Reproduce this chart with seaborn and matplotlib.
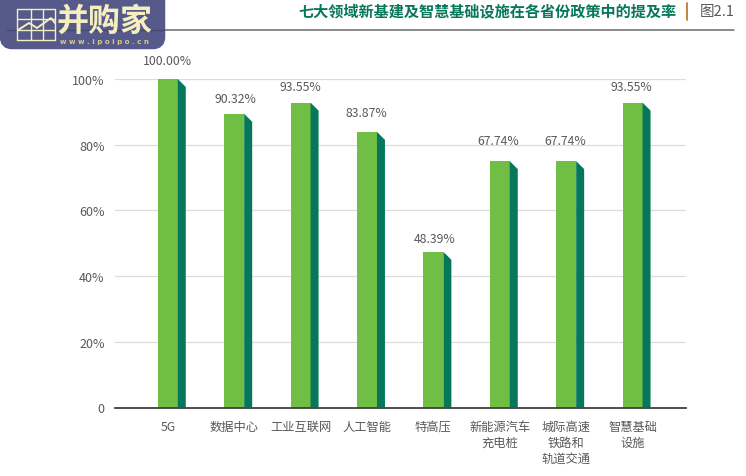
import matplotlib
matplotlib.use("Agg")
import matplotlib.pyplot as plt
from matplotlib.patches import FancyBboxPatch, Polygon
import seaborn as sns
import pandas as pd

sns.set_theme(style="white")
plt.rcParams['font.family'] = ['Noto Sans CJK SC', 'DejaVu Sans']

categories = ["5G", "数据中心", "工业互联网", "人工智能", "特高压",
              "新能源汽车\n充电桩", "城际高速\n铁路和\n轨道交通", "智慧基础\n设施"]
bar_heights = [100, 89.4, 92.8, 83.9, 47.4, 75.0, 75.0, 92.8]
labels = ["100.00%", "90.32%", "93.55%", "83.87%", "48.39%", "67.74%", "67.74%", "93.55%"]
y_ticks = [0, 20, 40, 60, 80, 100]
y_tick_labels = ["0", "20%", "40%", "60%", "80%", "100%"]
title = "七大领域新基建及智慧基础设施在各省份政策中的提及率"
fig_tag = "图2.1"
logo_name = "并购家"
logo_url = "www.ipoipo.cn"

W, H = 746, 477
GREEN, DARK, TXT = "#70BF44", "#06775A", "#595959"
fig = plt.figure(figsize=(W / 100, H / 100), dpi=100, facecolor="white")
ax = fig.add_axes([115 / W, 1 - 408.5 / H, 571 / W, 328.5 / H])

df = pd.DataFrame({"cat": categories, "val": bar_heights})
bw = 20 / 66.4
sns.barplot(data=df, x="cat", y="val", color=GREEN, saturation=1, width=bw, ax=ax,
            zorder=3, linewidth=0, edgecolor="none")
ax.set_xlim(-0.795, 7.805)
ax.set_ylim(0, 100)
ax.set_xlabel("")
ax.set_ylabel("")
ax.set_yticks(y_ticks, y_tick_labels)
ax.tick_params(axis="y", length=0, pad=7.5, labelsize=9, labelcolor=TXT)
ax.tick_params(axis="x", length=0, pad=9, labelsize=8.8, labelcolor=TXT)
for t in ax.get_xticklabels():
    t.set_linespacing(1.3)
    t.set_va("top")
ax.grid(axis="y", color="#DCDCDC", lw=0.9, zorder=0)
for s in ["top", "left", "right"]:
    ax.spines[s].set_visible(False)
ax.spines["bottom"].set_color("#404040")
ax.spines["bottom"].set_linewidth(1.3)
ax.spines["bottom"].set_zorder(5)

depth = 8 / 66.4
drop = 8 / 329 * 100
label_gap_px = [12, 9, 10, 13, 7, 14, 14, 10]
label_shift_px = [0, 1, 0, -1, 1, -2, -1, -1]
for i, h in enumerate(bar_heights):
    r = i + bw / 2
    ax.add_patch(Polygon([(r, 0), (r, h), (r + depth, h - drop), (r + depth, 0)],
                         closed=True, fc=DARK, ec="none", zorder=3))
    ax.annotate(labels[i], (i, h), xytext=(label_shift_px[i] * 0.72, label_gap_px[i] * 0.72),
                textcoords="offset points", ha="center", va="bottom", fontsize=8.8,
                color=TXT, annotation_clip=False)

# header and logo, in pixel coordinates
ov = fig.add_axes([0, 0, 1, 1], zorder=10)
ov.set_xlim(0, W)
ov.set_ylim(H, 0)
ov.axis("off")
ov.patch.set_alpha(0)
ov.plot([0, 734], [30.5, 30.5], color="#6B6B6B", lw=1.1, zorder=1)
ov.text(487, 12.5, title, ha="center", va="center", fontsize=10.9, fontweight="bold", color=DARK)
ov.plot([687, 687], [4, 21], color="#C8772E", lw=1.3)
ov.text(700, 12, fig_tag, ha="left", va="center", fontsize=10.5, color="#595959")

ov.add_patch(FancyBboxPatch((6, -20), 153, 64, boxstyle="round,pad=0,rounding_size=6",
                            fc="#555A8A", ec="#555A8A", lw=9, zorder=2, clip_on=True))
ov.plot([7, 164], [30.5, 30.5], color="#45476C", lw=0.9, zorder=3)
CREAM = "#F5EFC0"
for x in [17, 31, 43, 55]:
    ov.plot([x, x], [10, 41], color=CREAM, lw=1, zorder=4)
for y in [10, 20, 31, 41]:
    ov.plot([17, 55], [y, y], color=CREAM, lw=1, zorder=4)
ov.plot([18, 29, 37, 51, 55], [31, 24, 29, 19, 24], color=CREAM, lw=1.4, zorder=5)
ov.text(105, 22, logo_name, ha="center", va="center", fontsize=23, fontweight="bold",
        color=CREAM, zorder=5)
ov.text(104, 42, " ".join(logo_url), ha="center", va="center",
        fontsize=5, color="#D8C98A", zorder=5, fontfamily="DejaVu Sans", fontweight="bold")

fig.savefig("out.png", dpi=100, facecolor="white")
